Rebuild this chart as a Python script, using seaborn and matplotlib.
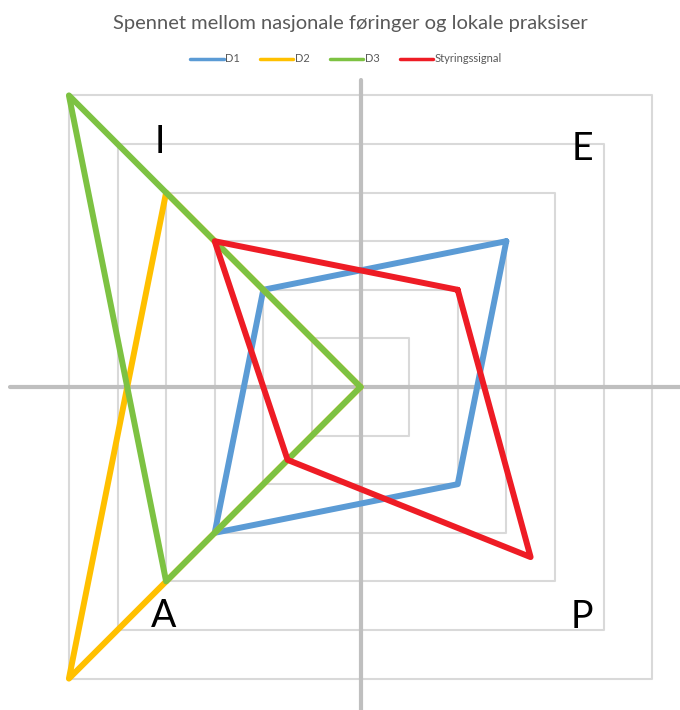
import pandas as pd
import matplotlib.pyplot as plt
import seaborn as sns

# verdier langs de fire diagonalene: E, P, A, I
dimensions = ["E", "P", "A", "I"]
series = ["D1", "D2", "D3", "Styringssignal"]
d1 = [3, 2, 3, 2]
d2 = [0, 0, 6, 4]
d3 = [0, 0, 4, 6]
styring = [2, 3.5, 1.5, 3]
levels = [1, 2, 3, 4, 5, 6]

colors = ["#5B9BD5", "#FFC000", "#7DC242", "#EE1C25"]
title = "Spennet mellom nasjonale føringer og lokale praksiser"

# retning for hver dimensjon (kvadrant)
signs = {"E": (1, 1), "P": (1, -1), "A": (-1, -1), "I": (-1, 1)}

rows = []
for name, vals in zip(series, [d1, d2, d3, styring]):
    for i, dim in enumerate(dimensions + [dimensions[0]]):
        v = vals[i % 4]
        sx, sy = signs[dim]
        rows.append({"serie": name, "x": sx * v, "y": sy * v})
df = pd.DataFrame(rows)

sns.set_style("white")
plt.rcParams["font.family"] = ["Lato", "DejaVu Sans"]

fig = plt.figure(figsize=(6.8, 7.1), dpi=100)
ax = fig.add_axes([0, 0, 1, 1])

# kvadratiske rutenettlinjer
for lv in levels:
    ax.plot([-lv, lv, lv, -lv, -lv], [lv, lv, -lv, -lv, lv],
            color="#D9D9D9", lw=1.5, zorder=1)

ax.axhline(0, xmin=10 / 680, color="#BFBFBF", lw=3, zorder=2)
ax.axvline(0, ymax=(710 - 80) / 710, color="#BFBFBF", lw=3, zorder=2)

sns.lineplot(data=df, x="x", y="y", hue="serie", hue_order=series,
             palette=colors, sort=False, estimator=None, lw=4.3,
             solid_joinstyle="round", solid_capstyle="round", ax=ax, zorder=3)

ax.set_xlim(-7.418, 6.574)
ax.set_ylim(-6.646, 7.963)
ax.axis("off")

# bokstaver for dimensjonene
label_pos = {"I": (-4.12, 4.81), "E": (4.56, 4.67), "A": (-4.06, -4.94), "P": (4.56, -4.96)}
for dim, (lx, ly) in label_pos.items():
    ax.text(lx, ly, dim, fontsize=27, ha="center", va="baseline", color="black")

fig.text(350 / 680, 1 - 24 / 710, title, ha="center", va="center",
         fontsize=14.5, color="#595959")

sns.move_legend(ax, "center", bbox_to_anchor=(346 / 680, 1 - 59 / 710), ncol=4,
                frameon=False, title=None, fontsize=8, handlelength=3,
                handletextpad=0.15, columnspacing=1.8)
leg = ax.get_legend()
for t in leg.get_texts():
    t.set_color("#595959")
for h in leg.legend_handles:
    h.set_linewidth(2.5)

fig.savefig("out.png", dpi=100)
